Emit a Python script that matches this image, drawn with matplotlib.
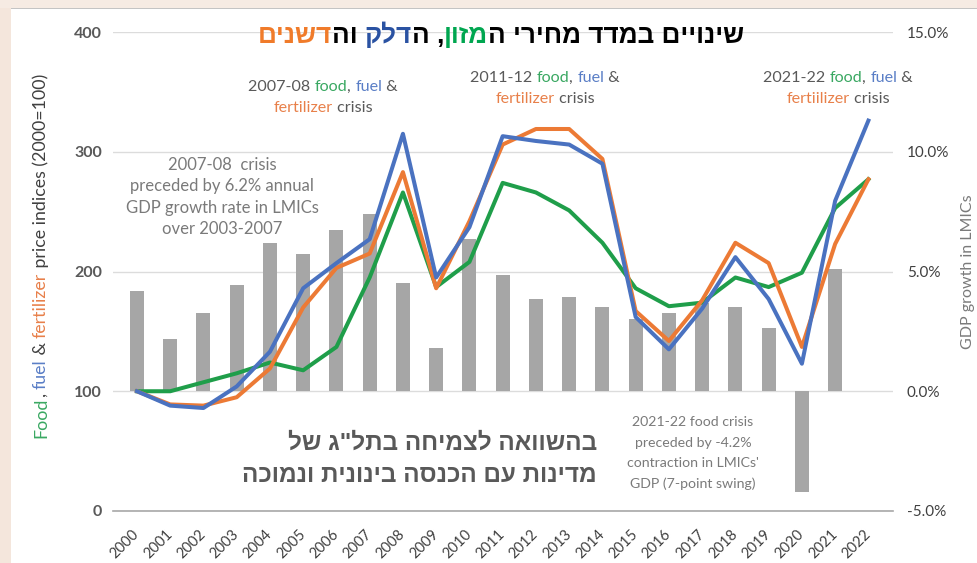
import matplotlib
matplotlib.use('Agg')
import matplotlib.pyplot as plt
import matplotlib.patches as patches
from matplotlib.transforms import IdentityTransform
import matplotlib.ticker as ticker
import numpy as np

# %% data
years = list(range(2000, 2023))
food = [100, 100, 107.5, 115, 124, 117.5, 137, 195, 266, 187, 208, 274,
        266, 251, 224, 186, 171, 174, 195, 187, 199, 253, 277]
fuel = [100, 88, 86, 104, 133, 186, 207, 227, 315, 195, 237, 313,
        309, 306, 290, 162, 135, 169, 212, 177, 123, 259, 326]
fert = [100, 89, 88, 95, 119, 170, 203, 215, 283, 186, 242, 306,
        319, 319, 294, 167, 142, 176, 224, 207, 137, 223, 277]
# GDP growth in LMICs (%), no bar for 2022
gdp_years = years[:-1]
gdp = [4.2, 2.2, 3.25, 4.45, 6.2, 5.75, 6.75, 7.4, 4.5, 1.8, 6.35, 4.85,
       3.85, 3.95, 3.5, 3.0, 3.25, 3.7, 3.5, 2.65, -4.2, 5.1]
left_ticks = [0, 100, 200, 300, 400]
right_ticks = [-5, 0, 5, 10, 15]

# colours
GREEN, BLUE, ORANGE, BAR = '#1f9e4a', '#4a72c0', '#ec7a35', '#a6a6a6'
T_GREEN, T_BLUE, T_ORANGE = '#3aa862', '#5a7ec6', '#e8804a'
DARK, GRAY, LGRAY = '#404040', '#595959', '#7a7a7a'

W, H = 977, 563
fig = plt.figure(figsize=(W / 100, H / 100), dpi=100)
fig.patch.set_facecolor('white')
renderer = fig.canvas.get_renderer()

# beige frame of the screenshot
fig.patches.append(patches.Rectangle((0, 0), 11, H, transform=IdentityTransform(),
                                     facecolor='#f4e6dc', edgecolor='none', zorder=0))
fig.patches.append(patches.Rectangle((0, H - 8), W, 8, transform=IdentityTransform(),
                                     facecolor='#f6ebe3', edgecolor='none', zorder=0))
fig.patches.append(patches.Rectangle((11, H - 9), W - 11, 1.2, transform=IdentityTransform(),
                                     facecolor='#c4c4c4', edgecolor='none', zorder=0))

EN = ['Lato', 'DejaVu Sans']
HE = ['Liberation Sans', 'DejaVu Sans']


def advance(s, **kw):
    # width of s incl. trailing spaces (measure with a sentinel glyph)
    t = fig.text(0, 0, s + '|', transform=IdentityTransform(), **kw)
    w = t.get_window_extent(renderer).width
    t.remove()
    t = fig.text(0, 0, '|', transform=IdentityTransform(), **kw)
    w -= t.get_window_extent(renderer).width
    t.remove()
    return w


def rich_line(x, y, parts, ha='center', rotation=0, **kw):
    # x, y in picture pixels (y from top, baseline); parts = [(text, colour)]
    full = ''.join(s for s, _ in parts)
    total = advance(full, **kw)
    offs, acc = [], ''
    for s, _ in parts:
        offs.append(advance(acc, **kw) if acc else 0.0)
        acc += s
    start = {'center': -total / 2, 'right': -total, 'left': 0}[ha]
    for (s, c), o in zip(parts, offs):
        if rotation == 90:
            px, py = x, (H - y) + start + o
        else:
            px, py = x + start + o, H - y
        fig.text(px, py, s, color=c, transform=IdentityTransform(), ha='left',
                 va='baseline', rotation=rotation, rotation_mode='anchor', **kw)


def rtl(parts):
    # matplotlib has no bidi: give Hebrew in visual order
    return [(s[::-1], c) for s, c in parts[::-1]]


# %% axes
ax = fig.add_axes([113 / W, 52 / H, 780 / W, 479 / H])
ax2 = ax.twinx()
ax.set_zorder(2)
ax2.set_zorder(1)
ax.patch.set_visible(False)
ax2.patch.set_visible(False)

ax2.bar(gdp_years, gdp, width=0.42, color=BAR, zorder=2)
ax.plot(years, food, color=GREEN, lw=2.9, solid_joinstyle='round')
ax.plot(years, fert, color=ORANGE, lw=2.9, solid_joinstyle='round')
ax.plot(years, fuel, color=BLUE, lw=2.9, solid_joinstyle='round')

ax.set_xlim(2000 - 0.72, 2022 + 0.74)
ax.set_ylim(0, 400)
ax2.set_ylim(-5, 15)

ax2.set_yticks(right_ticks)
ax2.yaxis.set_major_formatter(ticker.FuncFormatter(lambda v, p: f'{v:.1f}%'))
ax2.grid(axis='y', color='#dcdcdc', lw=1.0)
ax2.set_axisbelow(True)
ax.set_yticks(left_ticks)
ax.set_xticks(years)
ax.set_xticklabels([str(y) for y in years], rotation=45, ha='right', va='center',
                   rotation_mode='anchor', family=EN, fontsize=10.5, color=DARK)
for lab in ax.get_yticklabels():
    lab.set_family(EN)
    lab.set_fontweight('bold')
    lab.set_fontsize(11.5)
    lab.set_color(GRAY)
for lab in ax2.get_yticklabels():
    lab.set_family(EN)
    lab.set_fontsize(11)
    lab.set_color(DARK)

ax.tick_params(axis='x', length=0, pad=15)
ax.tick_params(axis='y', length=0, pad=8)
ax2.tick_params(axis='y', length=0, pad=10)
for a in (ax, ax2):
    for sp in a.spines.values():
        sp.set_visible(False)
ax.spines['bottom'].set_visible(True)
ax.spines['bottom'].set_color('#a8a8a8')
ax.spines['bottom'].set_linewidth(1.2)

# right axis label
fig.text(968, H - 272, 'GDP growth in LMICs', transform=IdentityTransform(), rotation=90,
         ha='center', va='center', family=EN, fontsize=11.5, color=LGRAY)

# left axis label, multi-coloured, rotated
rich_line(46, 256, [('Food', T_GREEN), (', ', DARK), ('fuel', T_BLUE), (' & ', DARK),
                    ('fertilizer', T_ORANGE), (' price indices (2000=100)', DARK)],
          rotation=90, family=EN, fontsize=12.8)

# %% title (Hebrew)
title = [('שינויים במדד מחירי ה', 'black'), ('מזון', '#00a650'), (', ה', 'black'),
         ('דלק', '#2a52a2'), (' וה', 'black'), ('דשנים', '#f07b2a')]
rich_line(501, 43, rtl(title), family=HE, fontsize=18.8, fontweight='bold')

# %% crisis annotations
def crisis(x, y, tag, fert_word='fertilizer'):
    rich_line(x, y, [(tag + ' ', GRAY), ('food', T_GREEN), (', ', GRAY),
                     ('fuel', T_BLUE), (' &', GRAY)], family=EN, fontsize=11.6)
    rich_line(x, y + 21, [(fert_word, T_ORANGE), (' crisis', GRAY)], family=EN, fontsize=11.6)


crisis(323, 91, '2007-08')
crisis(545, 82, '2011-12')
crisis(838, 82, '2021-22', 'fertiilizer')

note1 = ['2007-08  crisis', 'preceded by 6.2% annual', 'GDP growth rate in LMICs',
         'over 2003-2007']
for i, s in enumerate(note1):
    rich_line(222, 170 + 21.3 * i, [(s, LGRAY)], family=EN, fontsize=12)

note2 = ['2021-22 food crisis', 'preceded by -4.2%', "contraction in LMICs'",
         'GDP (7-point swing)']
for i, s in enumerate(note2):
    rich_line(693, 426 + 20.7 * i, [(s, LGRAY)], family=EN, fontsize=10.2)

# Hebrew note bottom-left
he1 = 'בהשוואה לצמיחה בתל"ג של'
he2 = 'מדינות עם הכנסה בינונית ונמוכה'
rich_line(597, 450, rtl([(he1, GRAY)]), ha='right', family=HE, fontsize=17.5, fontweight='bold')
rich_line(597, 482, rtl([(he2, GRAY)]), ha='right', family=HE, fontsize=17.5, fontweight='bold')

fig.savefig('out.png', dpi=100, facecolor=fig.get_facecolor())
